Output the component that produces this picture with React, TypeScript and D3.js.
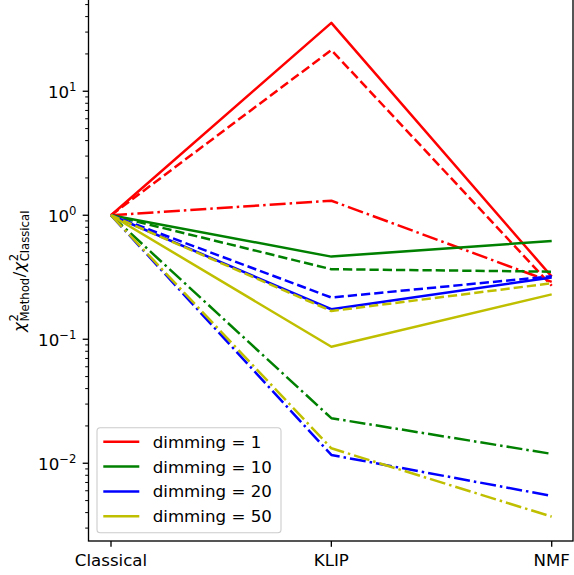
import React, { useEffect, useRef } from "react";
import * as d3 from "d3";

const categories = ["Classical", "KLIP", "NMF"];
const dimmings = [1, 10, 20, 50];
const colors = ["#ff0000", "#008000", "#0000ff", "#bfbf00"];
// values per dimming: solid (method A), dashed, dashdot
const solidValues = [
  [1, 35.6, 0.32],
  [1, 0.464, 0.62],
  [1, 0.1745, 0.315],
  [1, 0.087, 0.23],
];
const dashedValues = [
  [1, 21.5, 0.27],
  [1, 0.367, 0.351],
  [1, 0.217, 0.322],
  [1, 0.169, 0.283],
];
const dashdotValues = [
  [1, 1.31, 0.29],
  [1, 0.0231, 0.0119],
  [1, 0.01167, 0.00545],
  [1, 0.0132, 0.00371],
];
const yMajorTicks = [-2, -1, 0, 1];

export default function App() {
  const ref = useRef<SVGSVGElement>(null);
  useEffect(() => {
    const svg = d3.select(ref.current);
    svg.selectAll("*").remove();
    const W = 574, H = 575;
    const left = 88.5, right = 573, top = -1.5, bottom = 541;
    const font = "DejaVu Sans, sans-serif";
    const fs = 16.67;
    const y = d3.scaleLog().domain([Math.pow(10, -2.627), Math.pow(10, 1.748)]).range([bottom, top]);
    const x = d3.scalePoint().domain(categories).range([111, 551.7]);

    svg.append("rect").attr("width", W).attr("height", H).attr("fill", "white");

    const plot = svg.append("g");
    const line = d3.line<number>().x((_, i) => x(categories[i])!).y((d) => y(d));
    const styles: [number[][], string | null][] = [
      [solidValues, null],
      [dashedValues, "9.25,4"],
      [dashdotValues, "16,4,2.5,4"],
    ];
    dimmings.forEach((_, k) => {
      styles.forEach(([vals, dash]) => {
        plot
          .append("path")
          .attr("d", line(vals[k]))
          .attr("fill", "none")
          .attr("stroke", colors[k])
          .attr("stroke-width", 2.5)
          .attr("stroke-linejoin", "round")
          .attr("stroke-dasharray", dash)
          .attr("stroke-linecap", "butt");
      });
    });

    // spines
    const ax = svg.append("g").attr("stroke", "black").attr("stroke-width", 1.33).attr("fill", "none");
    ax.append("rect").attr("x", left).attr("y", top).attr("width", right - left).attr("height", bottom - top);

    // y ticks
    const [d0, d1] = y.domain();
    for (let e = -3; e <= 2; e++) {
      for (let m = 1; m <= 9; m++) {
        const v = m * Math.pow(10, e);
        if (v < d0 || v > d1) continue;
        const yy = y(v);
        const len = m === 1 ? 5.8 : 3.3;
        ax.append("line").attr("x1", left).attr("x2", left - len).attr("y1", yy).attr("y2", yy)
          .attr("stroke-width", m === 1 ? 1.33 : 1.0);
      }
    }
    yMajorTicks.forEach((e) => {
      const yy = y(Math.pow(10, e));
      const t = svg.append("text").attr("x", 76.5).attr("y", yy + 7.2).attr("text-anchor", "end")
        .attr("font-family", font).attr("font-size", fs).attr("fill", "black");
      t.append("tspan").text("10");
      t.append("tspan").attr("dy", -7.5).attr("font-size", fs * 0.7).text(e < 0 ? "\u2212" + Math.abs(e) : String(e));
    });

    // x ticks
    categories.forEach((c) => {
      const xx = x(c)!;
      ax.append("line").attr("x1", xx).attr("x2", xx).attr("y1", bottom).attr("y2", bottom + 5.8);
      svg.append("text").attr("x", xx).attr("y", 566).attr("text-anchor", "middle")
        .attr("font-family", font).attr("font-size", fs).attr("fill", "black").text(c);
    });

    // y label
    const g = svg.append("g").attr("transform", "translate(25,271) rotate(-90)");
    const sfs = fs * 0.7;
    const parts: { t: string; sub: string; sup: string; after?: string }[] = [
      { t: "\u03c7", sub: "Method", sup: "2", after: "/" },
      { t: "\u03c7", sub: "Classical", sup: "2" },
    ];
    const tmp: any[] = [];
    let cx = 0;
    const addText = (s: string, size: number, dy: number, style?: string) => {
      const el = g.append("text").attr("x", cx).attr("y", dy).attr("font-family", font)
        .attr("font-size", size).attr("fill", "black").attr("font-style", style || "normal").text(s);
      tmp.push(el);
      return (el.node() as SVGTextElement).getComputedTextLength();
    };
    parts.forEach((p) => {
      const w = addText(p.t, fs, 0, "italic");
      const base = cx + w + 0.5;
      cx = base;
      const ws = addText(p.sub, sfs, 4);
      cx = base;
      const wp = addText(p.sup, sfs, -7.5);
      cx = base + Math.max(ws, wp) + 0.5;
      if (p.after) {
        const wa = addText(p.after, fs, 0);
        cx += wa;
      }
    });
    const total = cx;
    tmp.forEach((el) => el.attr("x", +el.attr("x") - total / 2));

    // legend
    const lg = svg.append("g");
    lg.append("rect").attr("x", 97).attr("y", 427.7).attr("width", 184).attr("height", 105)
      .attr("rx", 3.3).attr("fill", "white").attr("fill-opacity", 0.8)
      .attr("stroke", "#cccccc").attr("stroke-width", 1.1);
    dimmings.forEach((dm, k) => {
      const yy = 441.7 + k * 24.85;
      lg.append("line").attr("x1", 103.3).attr("x2", 139.3).attr("y1", yy).attr("y2", yy)
        .attr("stroke", colors[k]).attr("stroke-width", 2.5);
      lg.append("text").attr("x", 152.7).attr("y", yy + 6).attr("font-family", font).attr("font-size", fs)
        .attr("fill", "black").text(`dimming = ${dm}`);
    });
  }, []);
  return <svg ref={ref} width={574} height={575} style={{ display: "block", position: "absolute", left: 0, top: 0 }} />;
}
